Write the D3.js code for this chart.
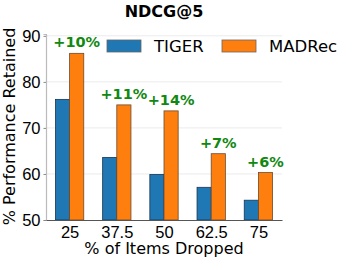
<!DOCTYPE html>
<html>
<head>
<meta charset="utf-8">
<script src="https://cdn.jsdelivr.net/npm/d3@7"></script>
<style>
  body { margin: 0; background: #fff; }
  svg { display: block; font-family: "DejaVu Sans", sans-serif; }
</style>
</head>
<body>
<div id="chart"></div>
<script>
// data
var dropped = ["25", "37.5", "50", "62.5", "75"];
var tiger = [76.2, 63.6, 59.9, 57.1, 54.3];
var madrec = [86.2, 75.0, 73.7, 64.4, 60.3];
var gains = ["+10%", "+11%", "+14%", "+7%", "+6%"];
var yTicks = [50, 60, 70, 80, 90];
var seriesNames = ["TIGER", "MADRec"];

var color_tiger = "#1f77b4";
var color_madrec = "#ff7f0e";
var color_gain = "#118811";

var width = 349, height = 262;
var margin = {left: 46, right: 67, top: 34, bottom: 42};
var innerW = width - margin.left - margin.right;
var innerH = height - margin.top - margin.bottom;

var svg = d3.select("#chart").append("svg")
    .attr("width", width)
    .attr("height", height);

var g = svg.append("g")
    .attr("transform", "translate(" + margin.left + "," + margin.top + ")");

var x = d3.scaleLinear().domain([-0.5, dropped.length - 0.5]).range([0, innerW]);
var y = d3.scaleLinear().domain([50, 90.4]).range([innerH, 0]);
var barW = x(0.3) - x(0);

// gridlines
g.selectAll("line.grid")
    .data(yTicks.slice(1))
    .enter().append("line")
    .attr("class", "grid")
    .attr("x1", 0).attr("x2", innerW)
    .attr("y1", d => y(d)).attr("y2", d => y(d))
    .style("stroke", "#ebebeb")
    .style("stroke-width", 1);

// bars
var groups = g.selectAll("g.group")
    .data(dropped)
    .enter().append("g")
    .attr("class", "group");

groups.append("rect")
    .attr("x", (d, i) => x(i) - barW)
    .attr("y", (d, i) => y(tiger[i]))
    .attr("width", barW)
    .attr("height", (d, i) => innerH - y(tiger[i]))
    .style("fill", color_tiger)
    .style("stroke", "#1a3550")
    .style("stroke-width", 0.8);

groups.append("rect")
    .attr("x", (d, i) => x(i))
    .attr("y", (d, i) => y(madrec[i]))
    .attr("width", barW)
    .attr("height", (d, i) => innerH - y(madrec[i]))
    .style("fill", color_madrec)
    .style("stroke", "#6a4a30")
    .style("stroke-width", 0.8);

// gain labels above MADRec bars
groups.append("text")
    .attr("x", (d, i) => x(i) + barW / 2)
    .attr("y", (d, i) => y(madrec[i]) - 6)
    .attr("text-anchor", "middle")
    .style("font-size", "14.5px")
    .style("font-weight", "bold")
    .style("fill", color_gain)
    .text((d, i) => gains[i]);

// axes
var yAxis = d3.axisLeft(y).tickValues(yTicks).tickSize(2.5).tickPadding(3);
var gy = g.append("g").call(yAxis);
gy.select(".domain").style("stroke", "#bbbbbb").style("stroke-width", 1.2);
gy.selectAll(".tick line").style("stroke", "#888");
gy.selectAll(".tick text").style("font-size", "16.5px").style("fill", "#000")
    .attr("dy", "0.36em");

var xAxis = d3.axisBottom(x).tickValues(d3.range(dropped.length))
    .tickFormat(i => dropped[i]).tickSize(0).tickPadding(4);
var gx = g.append("g").attr("transform", "translate(0," + innerH + ")").call(xAxis);
gx.select(".domain").style("stroke", "#555").style("stroke-width", 1.2);
gx.selectAll(".tick text").style("font-size", "16.5px").style("fill", "#000")
    .attr("dy", "0.82em");

// axis titles
svg.append("text")
    .attr("x", margin.left + innerW / 2)
    .attr("y", 254)
    .attr("text-anchor", "middle")
    .style("font-size", "16px")
    .text("% of Items Dropped");

svg.append("text")
    .attr("transform", "translate(15," + 126.5 + ") rotate(-90)")
    .attr("text-anchor", "middle")
    .style("font-size", "16px")
    .text("% Performance Retained");

// title
svg.append("text")
    .attr("x", margin.left + innerW / 2)
    .attr("y", 17)
    .attr("text-anchor", "middle")
    .style("font-size", "16px")
    .style("font-weight", "bold")
    .text("NDCG@5");

// legend
var legendX = [107, 222];
var legend = svg.selectAll("g.legend")
    .data(seriesNames)
    .enter().append("g")
    .attr("class", "legend")
    .attr("transform", (d, i) => "translate(" + legendX[i] + ",40)");

legend.append("rect")
    .attr("width", 34).attr("height", 12)
    .style("fill", (d, i) => i == 0 ? color_tiger : color_madrec)
    .style("stroke", "#666")
    .style("stroke-width", 0.8);

legend.append("text")
    .attr("x", 47).attr("y", 12)
    .style("font-size", "16.5px")
    .text(d => d);
</script>
</body>
</html>
